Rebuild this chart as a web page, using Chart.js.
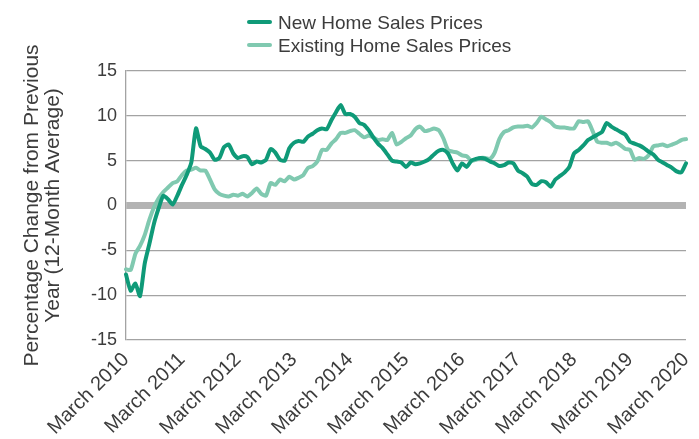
<!DOCTYPE html>
<html>
<head>
<meta charset="utf-8">
<script src="https://cdn.jsdelivr.net/npm/chart.js@4.4.1/dist/chart.umd.min.js"></script>
<style>
  html, body { margin: 0; padding: 0; background: #fff; }
  #wrap { position: relative; width: 699px; height: 439px; }
  #c { position: absolute; left: 0; top: 0; }
  .lg { position: absolute; left: 247px; font: 19px "Liberation Sans", Arial, sans-serif; color: #3c3c3c; white-space: nowrap; }
  .lg i { display: inline-block; width: 25px; height: 4px; border-radius: 2px; vertical-align: middle; margin-right: 6px; position: relative; top: -2px; }
</style>
</head>
<body>
<div id="wrap">
  <canvas id="c" width="699" height="439"></canvas>
  <div class="lg" style="top:12px"><i style="background:#0f9a78"></i>New Home Sales Prices</div>
  <div class="lg" style="top:35px"><i style="background:#80c9b0"></i>Existing Home Sales Prices</div>
</div>
<script>
// monthly, March 2010 .. March 2020
const tickLabels = ['March 2010','March 2011','March 2012','March 2013','March 2014','March 2015',
  'March 2016','March 2017','March 2018','March 2019','March 2020'];

const newHome = [
  -7.7,-9.5,-8.7,-10.1,-6.5,-4.3,-2.0,-0.3,1.1,0.7,0.1,1.1,
  2.3,3.4,4.8,8.6,6.6,6.3,5.9,5.1,5.3,6.5,6.8,5.8,
  5.3,5.5,5.4,4.6,4.9,4.8,5.1,6.3,5.9,5.1,5.0,6.4,
  7.0,7.2,7.1,7.7,8.0,8.4,8.6,8.5,9.5,10.4,11.2,10.2,
  10.2,9.9,9.2,9.0,8.4,7.6,6.9,6.4,5.7,5.0,4.9,4.8,
  4.3,4.8,4.6,4.7,4.9,5.2,5.7,6.1,6.2,5.8,4.7,3.9,
  4.7,4.3,5.0,5.2,5.3,5.2,4.9,4.7,4.4,4.5,4.8,4.7,
  3.9,3.6,3.2,2.4,2.3,2.7,2.6,2.1,2.9,3.3,3.7,4.3,
  5.8,6.2,6.7,7.3,7.6,7.9,8.2,9.2,8.8,8.5,8.2,7.9,
  7.1,6.9,6.7,6.4,6.0,5.7,5.1,4.8,4.5,4.2,3.8,3.7,
  4.7
];

const existingHome = [
  -7.1,-7.2,-5.4,-4.5,-3.3,-1.6,-0.2,0.8,1.5,2.0,2.5,2.7,
  3.4,3.9,4.0,4.2,3.9,3.9,2.9,1.8,1.3,1.1,1.0,1.2,
  1.1,1.3,1.0,1.4,1.9,1.3,1.1,2.5,2.3,2.9,2.7,3.2,
  2.9,3.1,3.4,4.2,4.4,4.9,6.2,6.2,6.9,7.4,8.1,8.1,
  8.3,8.4,8.0,7.6,7.8,7.6,7.3,7.4,7.3,8.1,6.8,7.1,
  7.5,7.8,8.5,8.8,8.3,8.4,8.6,8.4,7.5,6.2,6.0,5.9,
  5.6,5.5,5.0,5.1,5.3,5.3,5.2,5.9,7.4,8.2,8.4,8.7,
  8.8,8.8,8.9,8.7,9.2,9.9,9.6,9.3,8.8,8.7,8.7,8.6,
  8.6,9.4,9.3,9.4,8.3,7.1,7.0,7.0,6.8,7.0,6.7,6.3,
  6.2,5.1,5.3,5.2,5.6,6.6,6.7,6.8,6.6,6.8,7.0,7.3,
  7.4
];

const yTicks = [-15, -10, -5, 0, 5, 10, 15];
const months = newHome.map((v, i) => i);

const FONT = '"Liberation Sans", Arial, sans-serif';
const TXT = '#3c3c3c';

new Chart(document.getElementById('c'), {
  type: 'line',
  data: {
    labels: months,
    datasets: [
      { label: 'New Home Sales Prices', data: newHome, borderColor: '#0f9a78', borderWidth: 4,
        pointRadius: 0, tension: 0.2, borderCapStyle: 'round', borderJoinStyle: 'round' },
      { label: 'Existing Home Sales Prices', data: existingHome, borderColor: '#80c9b0', borderWidth: 4,
        pointRadius: 0, tension: 0.2, borderCapStyle: 'round', borderJoinStyle: 'round' }
    ]
  },
  options: {
    responsive: false,
    animation: false,
    layout: { padding: { left: 0, right: 13, top: 71, bottom: 0 } },
    plugins: { legend: { display: false }, tooltip: { enabled: false } },
    scales: {
      x: {
        offset: false,
        grid: { display: false },
        border: { display: false },
        afterFit: s => { s.height = 99; s.paddingRight = 0; s.paddingLeft = 0; },
        ticks: {
          autoSkip: false, minRotation: 45, maxRotation: 45, padding: 0,
          color: TXT, font: { family: FONT, size: 20 },
          callback: (v, i) => i % 12 === 0 ? tickLabels[i / 12] : ''
        }
      },
      y: {
        min: yTicks[0], max: yTicks[yTicks.length - 1],
        afterBuildTicks: s => { s.ticks = yTicks.map(v => ({ value: v })); },
        afterFit: s => { s.width = 126; },
        grid: {
          drawTicks: false,
          color: c => c.tick && c.tick.value === 0 ? '#b3b3b3' : '#a3a3a3',
          lineWidth: c => c.tick && c.tick.value === 0 ? 7 : 1.3
        },
        border: { display: true, color: '#a3a3a3', width: 1.3 },
        ticks: { padding: 9, color: TXT, font: { family: FONT, size: 18 } },
        title: {
          display: true,
          text: ['Percentage Change from Previous', 'Year (12-Month Average)'],
          color: TXT, font: { family: FONT, size: 21, lineHeight: 1.0 },
          padding: { top: 22, bottom: 0 }
        }
      }
    }
  }
});
</script>
</body>
</html>
